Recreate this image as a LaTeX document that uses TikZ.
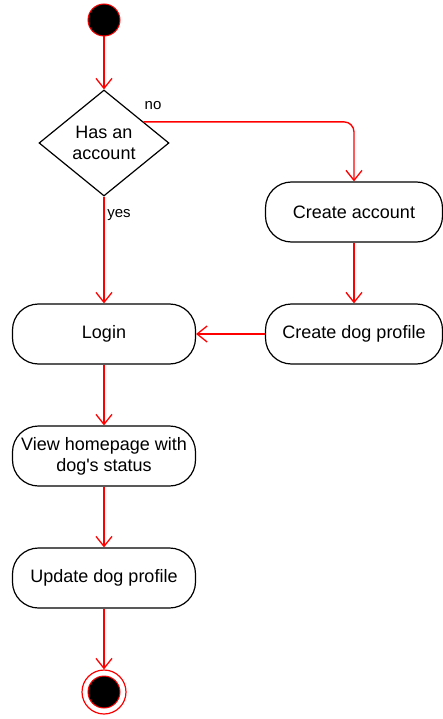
\documentclass[tikz,border=0pt]{standalone}
\usepackage{fontspec}
\setmainfont{Liberation Sans}
\usepackage{tikz}
\usetikzlibrary{shapes.geometric, arrows.meta, positioning}

\tikzset{
    activity/.style={draw, line width=1.2pt, rectangle, rounded corners=26pt,
        minimum height=60pt, align=center, font=\fontsize{18}{21}\selectfont},
    decision/.style={draw, line width=1.2pt, diamond, minimum width=130pt,
        minimum height=106pt, inner sep=0pt, align=center,
        font=\fontsize{18}{21}\selectfont},
    startdot/.style={circle, draw=red, line width=1pt, fill=black,
        minimum size=32pt, inner sep=0pt},
    flow/.style={draw=red, line width=1.4pt,
        -{Straight Barb[length=10pt, width=16pt, line width=1.3pt]}},
    guard/.style={font=\fontsize{15}{18}\selectfont}
}

\begin{document}
\begin{tikzpicture}[x=1pt, y=-1pt]
        \useasboundingbox (0, 0) rectangle (443, 719);

        \node[startdot] (start) at (104, 20) {};
        \node[decision] (hasacct) at (104, 143) {Has an\\account};
        \node[activity, minimum width=177pt] (create) at (354, 212) {Create account};
        \node[activity, minimum width=177pt] (dogprof) at (354, 334) {Create dog profile};
        \node[activity, minimum width=183pt] (login) at (104, 334) {Login};
        \node[activity, minimum width=183pt] (home) at (104, 456) {View homepage with\\dog\textquotesingle s status};
        \node[activity, minimum width=183pt] (update) at (104, 578) {Update dog profile};
        \node[circle, draw=red, line width=1.2pt, minimum size=44pt] (stop) at (104, 692) {};
        \node[startdot] (stopdot) at (stop) {};

        \draw[flow] (start) -- (hasacct.north);
        \draw[flow, rounded corners=10pt] (hasacct.28) -| (create.north);
        \node[guard] (nolbl) at (153, 106) {no};
        \draw[flow] (hasacct.south) -- (login.north);
        \node[guard] (yeslbl) at (119, 215) {yes};
        \draw[flow] (create) -- (dogprof);
        \draw[flow] (dogprof) -- (login);
        \draw[flow] (login) -- (home);
        \draw[flow] (home) -- (update);
        \draw[flow] (update) -- (stop);
    \end{tikzpicture}
\end{document}
